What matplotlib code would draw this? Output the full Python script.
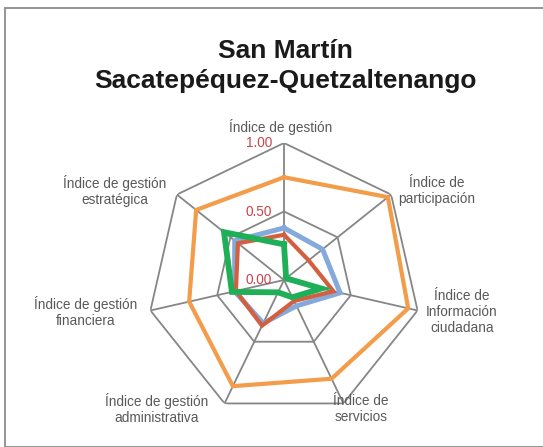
import numpy as np
import matplotlib
matplotlib.use("Agg")
import matplotlib.pyplot as plt
from matplotlib.patches import Rectangle
from matplotlib.transforms import ScaledTranslation

plt.rcParams['font.family'] = ['Liberation Sans', 'DejaVu Sans']

categories = ["Índice de gestión", "Índice de\nparticipación", "Índice de\nInformación\nciudadana",
              "Índice de\nservicios", "Índice de gestión\nadministrativa",
              "Índice de gestión\nfinanciera", "Índice de gestión\nestratégica"]
orange = [0.75, 0.97, 0.93, 0.80, 0.86, 0.71, 0.82]
blue = [0.38, 0.36, 0.42, 0.21, 0.35, 0.37, 0.46]
red = [0.33, 0.23, 0.37, 0.17, 0.37, 0.36, 0.43]
green = [0.26, 0.02, 0.28, 0.14, 0.10, 0.39, 0.56]
ticks = [0.0, 0.5, 1.0]
tick_labels = ["0.00", "0.50", "1.00"]

W, H = 543, 447
fig = plt.figure(figsize=(W/100, H/100), dpi=100)
fig.patch.set_facecolor('white')
fig.add_artist(Rectangle((5/W, 0), 1, (H-8)/H, transform=fig.transFigure,
                         fill=False, edgecolor='#8c8c8c', lw=1.3))

cx, cy, R = 284, 280, 137
ax = fig.add_axes([(cx-R)/W, (H-cy-R)/H, 2*R/W, 2*R/H], projection='polar')
ax.set_theta_zero_location('N')
ax.set_theta_direction(-1)
ax.set_ylim(0, 1)
ax.axis('off')

n = len(categories)
theta = np.arange(n) * 2*np.pi/n
tc = np.append(theta, theta[0])

grid_c = '#868686'
for t in ticks[1:]:
    ax.plot(tc, [t]*(n+1), color=grid_c, lw=1.3, zorder=1)
for th in theta:
    ax.plot([th, th], [0, 1], color=grid_c, lw=1.3, zorder=1)

series = [(orange, '#F39C4A', 3.0), (blue, '#84A9DB', 3.6),
          (red, '#D45F3F', 3.0), (green, '#1EAF57', 4.2)]
for vals, col, lw in series:
    v = np.append(vals, vals[0])
    ax.plot(tc, v, color=col, lw=lw, zorder=3, solid_joinstyle='miter')

shift = ax.transData + ScaledTranslation(-12/100, 0, fig.dpi_scale_trans)
for t, lab in zip(ticks, tick_labels):
    ax.text(0, t, lab, transform=shift, color='#C8434B', fontsize=9.8,
            ha='right', va='center', zorder=5)

label_pos = [(281, 127), (437, 191), (462, 312), (361, 409), (157, 409), (86, 312), (115, 191)]
for lab, (x, y) in zip(categories, label_pos):
    fig.text(x/W, 1 - y/H, lab, ha='center', va='center', fontsize=9.8,
             color='#595959', linespacing=1.15)

fig.text(285/W, 1 - 66/H, "San Martín\nSacatepéquez-Quetzaltenango", ha='center', va='center',
         fontsize=19, fontweight='bold', color='#1a1a1a', linespacing=1.3)

fig.savefig('out.png', dpi=100)
